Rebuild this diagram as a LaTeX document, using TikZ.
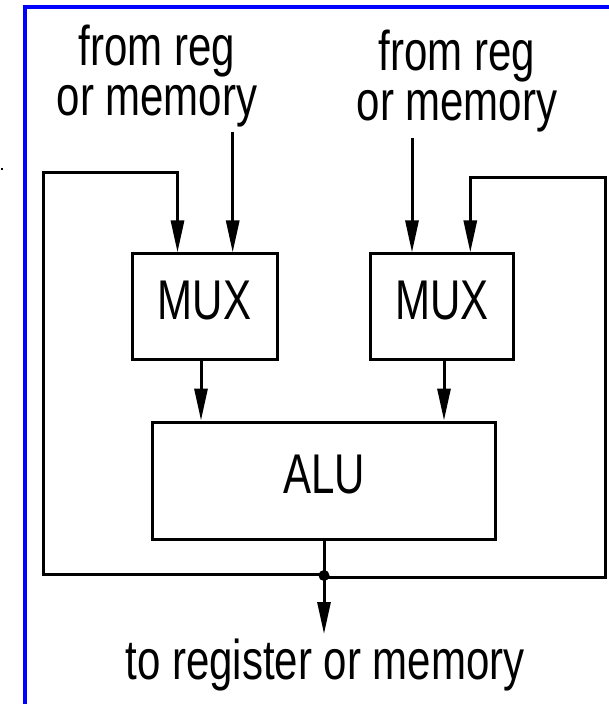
\documentclass[tikz,border=0pt]{standalone}
\usepackage{fontspec}
\setmainfont{Liberation Sans}[FakeStretch=0.75]
\usetikzlibrary{arrows.meta}
\begin{document}
\begin{tikzpicture}[x=1pt,y=-1pt,
  lw/.style={line width=3pt},
  blk/.style={draw, line width=3pt, inner sep=0pt, font=\fontsize{56}{56}\selectfont, text height=40pt, text depth=14pt},
  arr/.style={line width=3pt, -{Triangle[length=32pt,width=13pt]}},
  lbl/.style={font=\fontsize{56}{50}\selectfont, anchor=base, inner sep=0pt, align=center}
]
\useasboundingbox (0,0) rectangle (608,704);
\fill[white] (0,0) rectangle (608,704);
\draw[blue, line width=4pt] (24.5,710) -- (24.5,6.5) -- (612,6.5);
\fill (1,167.5) rectangle (3,169.5);

% texts (base anchor = baseline of the last line)
\node[lbl] (t1) at (157,115) {from reg\\or memory};
\node[lbl] (t2) at (457,120) {from reg\\or memory};
\node[lbl] (t3) at (325,679) {to register or memory};

% blocks
\node[blk, minimum width=145pt, minimum height=105.5pt] (mux1) at (204.5,306.7) {MUX};
\node[blk, minimum width=143pt, minimum height=105.7pt] (mux2) at (442.2,306.8) {MUX};
\node[blk, minimum width=343.4pt, minimum height=117pt] (alu) at (324,480.5) {ALU};

% inputs from memory
\coordinate (s1) at (232.7,131.7);
\coordinate (s2) at (412,138.3);
\draw[arr] (s1) -- (s1 |- mux1.north);
\draw[arr] (s2) -- (s2 |- mux2.north);

% mux -> alu
\draw[arr] ([xshift=-3.5pt]mux1.south) -- ([xshift=-3.5pt]mux1.south |- alu.north);
\draw[arr] ([xshift=1.8pt]mux2.south) -- ([xshift=1.8pt]mux2.south |- alu.north);

% output
\coordinate (j) at (324,575.5);
\coordinate (jl) at (324,574);
\coordinate (jr) at (324,577);
\coordinate (o) at (324,634);
\draw[lw] (alu.south) -- (j);
\draw[arr] (j) -- (o);

% feedback loops
\coordinate (f1) at (177.5,172.3);
\coordinate (c1) at (43,574);
\coordinate (c2) at (43,172.3);
\draw[arr] (jl) -- (c1) -- (c2) -- (f1) -- (f1 |- mux1.north);
\coordinate (f2) at (470.3,177.3);
\coordinate (c3) at (605.5,577);
\coordinate (c4) at (605.5,177.3);
\draw[arr] (jr) -- (c3) -- (c4) -- (f2) -- (f2 |- mux2.north);
\fill (j) circle (5.5pt);
\end{tikzpicture}
\end{document}
